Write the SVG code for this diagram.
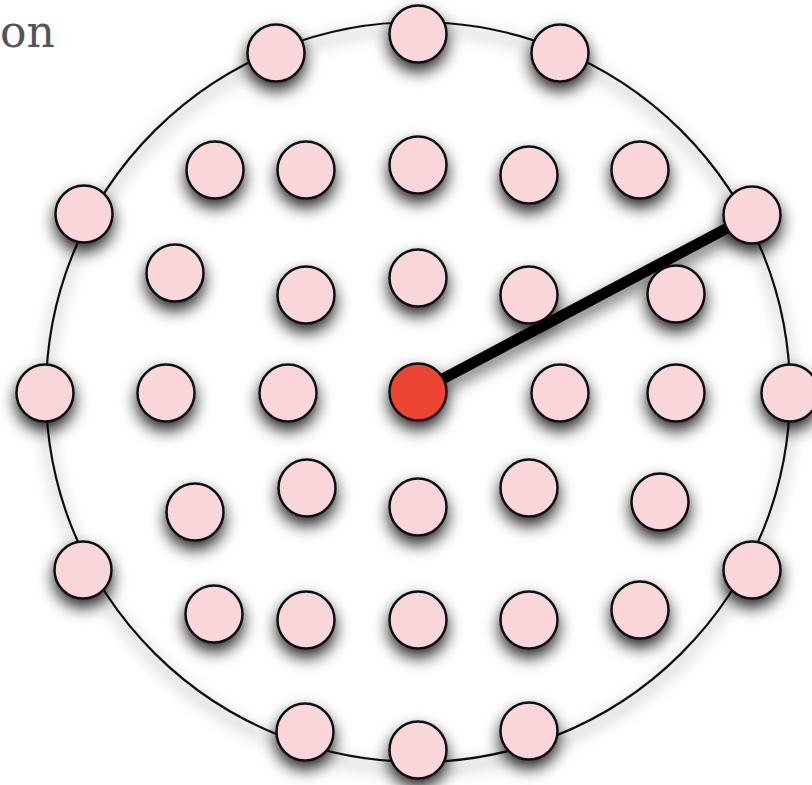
<svg xmlns="http://www.w3.org/2000/svg" width="812" height="785" viewBox="0 0 812 785">
<defs>
<filter id="sh" x="-80%" y="-80%" width="260%" height="260%">
<feDropShadow dx="0" dy="8" stdDeviation="8" flood-color="#000" flood-opacity="0.85"/>
</filter>
<filter id="shl" x="-10%" y="-10%" width="120%" height="120%">
<feDropShadow dx="0" dy="7" stdDeviation="8" flood-color="#000" flood-opacity="0.7"/>
</filter>
</defs>
<style>
.n{fill:#f8d6d9;stroke:#111;stroke-width:2.5;filter:url(#sh)}
.c{fill:#ee4530;stroke:#111;stroke-width:2.5;filter:url(#sh)}
.ring{fill:none;stroke:#111;stroke-width:2.2;filter:url(#shl)}
</style>
<rect width="812" height="785" fill="#fff"/>
<text x="0" y="47" font-family="DejaVu Serif, Liberation Serif, serif" font-size="44" fill="#555">on</text>
<g id="boundary"><ellipse class="ring" cx="418" cy="392" rx="372" ry="370"/></g>
<g id="connectors"><line x1="418" y1="392" x2="752" y2="215" stroke="#000" stroke-width="11" filter="url(#shl)"/></g>
<g id="r1"><circle class="n" cx="276" cy="53" r="28.5"/></g>
<g id="r2"><circle class="n" cx="418" cy="34" r="28.5"/></g>
<g id="r3"><circle class="n" cx="560" cy="53" r="28.5"/></g>
<g id="r4"><circle class="n" cx="84" cy="214" r="28.5"/></g>
<g id="r5"><circle class="n" cx="752" cy="215" r="28.5"/></g>
<g id="r6"><circle class="n" cx="45" cy="393" r="28.5"/></g>
<g id="r7"><circle class="n" cx="790" cy="393" r="28.5"/></g>
<g id="r8"><circle class="n" cx="83" cy="570" r="28.5"/></g>
<g id="r9"><circle class="n" cx="752" cy="570" r="28.5"/></g>
<g id="r10"><circle class="n" cx="305" cy="732" r="28.5"/></g>
<g id="r11"><circle class="n" cx="418" cy="750" r="28.5"/></g>
<g id="r12"><circle class="n" cx="529" cy="731" r="28.5"/></g>
<g id="a1"><circle class="n" cx="215" cy="170" r="28.5"/></g>
<g id="a2"><circle class="n" cx="306" cy="170" r="28.5"/></g>
<g id="a3"><circle class="n" cx="418" cy="165" r="28.5"/></g>
<g id="a4"><circle class="n" cx="529" cy="175" r="28.5"/></g>
<g id="a5"><circle class="n" cx="640" cy="170" r="28.5"/></g>
<g id="b1"><circle class="n" cx="175" cy="273" r="28.5"/></g>
<g id="b2"><circle class="n" cx="306" cy="295" r="28.5"/></g>
<g id="b3"><circle class="n" cx="418" cy="278" r="28.5"/></g>
<g id="b4"><circle class="n" cx="529" cy="295" r="28.5"/></g>
<g id="b5"><circle class="n" cx="676" cy="294" r="28.5"/></g>
<g id="m1"><circle class="n" cx="166" cy="393" r="28.5"/></g>
<g id="m2"><circle class="n" cx="288" cy="393" r="28.5"/></g>
<g id="center"><circle class="c" cx="418" cy="392" r="28.5"/></g>
<g id="m4"><circle class="n" cx="560" cy="393" r="28.5"/></g>
<g id="m5"><circle class="n" cx="676" cy="393" r="28.5"/></g>
<g id="d1"><circle class="n" cx="195" cy="512" r="28.5"/></g>
<g id="d2"><circle class="n" cx="307" cy="488" r="28.5"/></g>
<g id="d3"><circle class="n" cx="418" cy="507" r="28.5"/></g>
<g id="d4"><circle class="n" cx="529" cy="488" r="28.5"/></g>
<g id="d5"><circle class="n" cx="660" cy="502" r="28.5"/></g>
<g id="e1"><circle class="n" cx="214" cy="614" r="28.5"/></g>
<g id="e2"><circle class="n" cx="306" cy="620" r="28.5"/></g>
<g id="e3"><circle class="n" cx="418" cy="620" r="28.5"/></g>
<g id="e4"><circle class="n" cx="529" cy="620" r="28.5"/></g>
<g id="e5"><circle class="n" cx="640" cy="610" r="28.5"/></g>
</svg>
